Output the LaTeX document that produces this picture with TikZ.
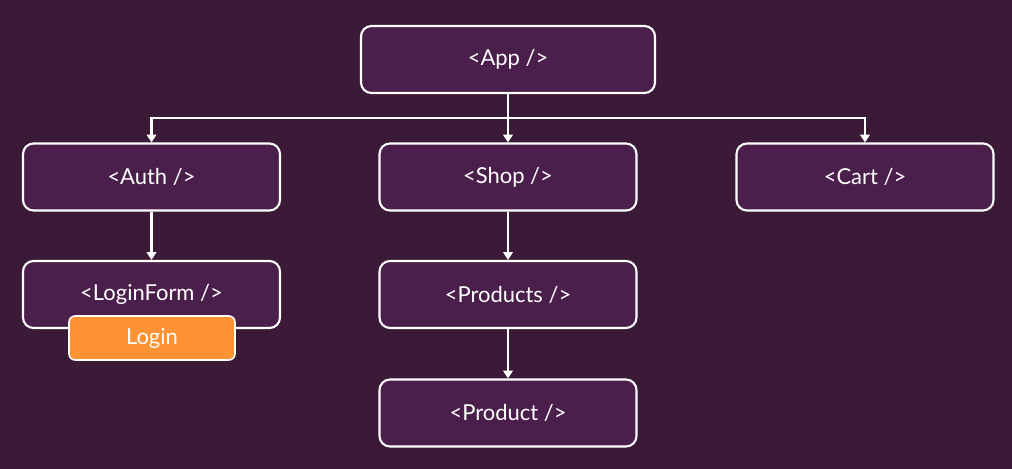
\documentclass[tikz,border=0pt]{standalone}
\usepackage{fontspec}
\setmainfont{Lato}
\usetikzlibrary{arrows.meta}
\definecolor{bgpurple}{HTML}{3A1A36}
\definecolor{boxpurple}{HTML}{4B1F4B}
\definecolor{loginorange}{HTML}{FF9233}

\begin{document}
\begin{tikzpicture}[
  x=0.02cm, y=-0.02cm,
  comp/.style={draw=white, fill=boxpurple, text=white, line width=1.2pt,
    rounded corners=6pt, minimum width=257*0.02cm, minimum height=67*0.02cm,
    font=\fontsize{12.5}{15}\selectfont},
  btn/.style={draw=white, fill=loginorange, text=white, line width=0.9pt,
    rounded corners=3.5pt, minimum width=166*0.02cm, minimum height=44*0.02cm,
    font=\fontsize{12.5}{15}\selectfont},
  link/.style={draw=white, line width=1.2pt,
    -{Triangle[width=5.5pt,length=4.5pt]}}
]
\fill[bgpurple] (0,0) rectangle (1012,469);
\useasboundingbox (0,0) rectangle (1012,469);

\node[comp, minimum width=294*0.02cm] (app) at (508,59.5) {<App />};

\node[comp] (auth) at (151.5,177) {<Auth />};
\node[comp] (shop) at (508,177) {<Shop />};
\node[comp] (cart) at (865,177) {<Cart />};

\node[comp] (loginform) at (151.5,294.5) {<LoginForm />};
\node[comp] (products) at (508,294.5) {<Products />};
\node[comp] (product) at (508,413) {<Product />};

\node[btn] (login) at (152,338) {Login};

% branches from the app
\coordinate (split) at (508,118);
\draw[link] (app.south) -- (shop.north);
\draw[link] (split) -| (auth.north);
\draw[link] (split) -| (cart.north);

\draw[link] (auth) -- (loginform);
\draw[link] (shop) -- (products);
\draw[link] (products) -- (product);
\end{tikzpicture}
\end{document}
